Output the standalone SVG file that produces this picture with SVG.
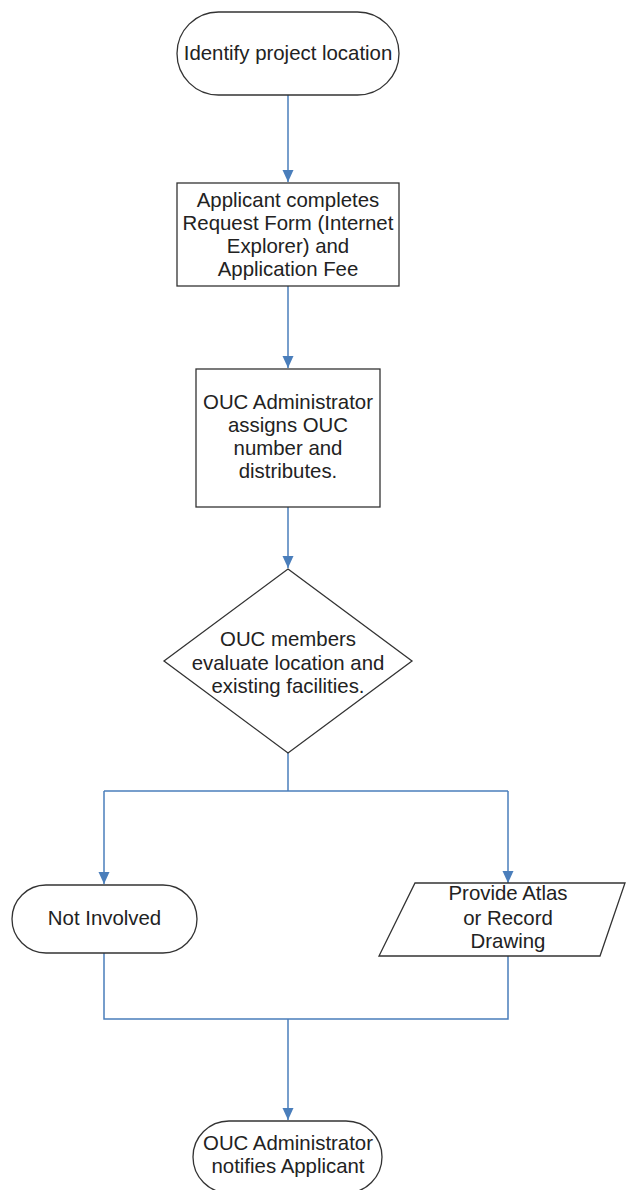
<svg xmlns="http://www.w3.org/2000/svg" width="626" height="1190" viewBox="0 0 626 1190">
<style>
.shape{fill:#fff;stroke:#333;stroke-width:1.3}
.conn{fill:none;stroke:#4a7ebb;stroke-width:1.5}
.t{font-family:"Liberation Sans",Arial,sans-serif;font-size:20.4px;fill:#222;text-anchor:middle}
</style>
<defs>
<marker id="arr" markerUnits="userSpaceOnUse" markerWidth="12" markerHeight="12" viewBox="0 0 12 12" refX="12" refY="6" orient="auto">
<path d="M0,0.5 L12,6 L0,11.5 Z" fill="#4a7ebb"/>
</marker>
</defs>
<rect width="626" height="1190" fill="#fff"/>
<g id="connectors">
<path class="conn" d="M288,95 V182" marker-end="url(#arr)"/>
<path class="conn" d="M288,286 V368" marker-end="url(#arr)"/>
<path class="conn" d="M288,507 V568" marker-end="url(#arr)"/>
<path class="conn" d="M288,753 V791"/>
<path class="conn" d="M104,791 H508"/>
<path class="conn" d="M104,791 V884" marker-end="url(#arr)"/>
<path class="conn" d="M508,791 V883" marker-end="url(#arr)"/>
<path class="conn" d="M104,953 V1019 H508 V956"/>
<path class="conn" d="M288,1019 V1120" marker-end="url(#arr)"/>
</g>
<g id="n1">
<rect class="shape" x="177" y="12" width="222" height="83" rx="41.5"/>
<text class="t" x="288" y="60">Identify project location</text>
</g>
<g id="n2">
<rect class="shape" x="177" y="183" width="222" height="103"/>
<text class="t" x="288" y="207">Applicant completes</text>
<text class="t" x="288" y="230">Request Form (Internet</text>
<text class="t" x="288" y="253">Explorer) and</text>
<text class="t" x="288" y="276">Application Fee</text>
</g>
<g id="n3">
<rect class="shape" x="196" y="369" width="184" height="138"/>
<text class="t" x="288" y="409">OUC Administrator</text>
<text class="t" x="288" y="432">assigns OUC</text>
<text class="t" x="288" y="455">number and</text>
<text class="t" x="288" y="478">distributes.</text>
</g>
<g id="n4">
<polygon class="shape" points="288,569 412,661 288,753 164,661"/>
<text class="t" x="288" y="646">OUC members</text>
<text class="t" x="288" y="670">evaluate location and</text>
<text class="t" x="288" y="693">existing facilities.</text>
</g>
<g id="n5">
<rect class="shape" x="12" y="885" width="185" height="68" rx="34"/>
<text class="t" x="104.5" y="925">Not Involved</text>
</g>
<g id="n6">
<polygon class="shape" points="415,883 625,883 600,956 379,956"/>
<text class="t" x="508" y="900">Provide Atlas</text>
<text class="t" x="508" y="925">or Record</text>
<text class="t" x="508" y="948">Drawing</text>
</g>
<g id="n7">
<rect class="shape" x="193" y="1121" width="189" height="72" rx="36"/>
<text class="t" x="288" y="1150">OUC Administrator</text>
<text class="t" x="288" y="1173">notifies Applicant</text>
</g>
</svg>
